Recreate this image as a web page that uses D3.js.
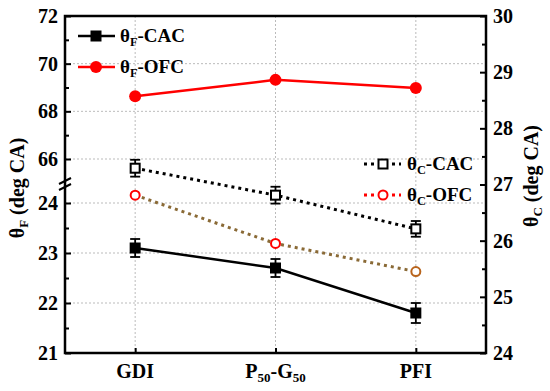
<!DOCTYPE html>
<html>
<head>
<meta charset="utf-8">
<script src="https://cdn.jsdelivr.net/npm/d3@7/dist/d3.min.js"></script>
<style>
  body { margin: 0; background: #fff; }
</style>
</head>
<body>
<script>
// data
var categories = ["GDI", "P50-G50", "PFI"];
var thetaF_CAC = [23.1, 22.7, 21.8];
var thetaF_CAC_err = [0.18, 0.18, 0.2];
var thetaF_OFC = [68.63, 69.32, 68.98];
var thetaC_CAC = [27.29, 26.81, 26.21];
var thetaC_CAC_err = [0.15, 0.15, 0.14];
var thetaC_OFC = [26.81, 25.95, 25.45];

var leftTopTicks = [66, 68, 70, 72];
var leftBotTicks = [21, 22, 23, 24];
var rightTicks = [24, 25, 26, 27, 28, 29, 30];

var svgWidth = 550, svgHeight = 391;
var plotLeft = 65, plotRight = 486, plotTop = 16, plotBottom = 353;
var breakY = 185;
var serif = "'Liberation Serif', 'Times New Roman', Times, serif";

var svg = d3.select("body").append("svg")
  .attr("width", svgWidth)
  .attr("height", svgHeight)
  .attr("font-family", serif)
  .attr("font-weight", "bold");

var x = d3.scalePoint().domain(categories).range([plotLeft, plotRight]).padding(0.5);
// broken left axis: upper part for OFC, lower part for CAC
var yTop = d3.scaleLinear().domain([66, 72]).range([159, plotTop]);
var yBot = d3.scaleLinear().domain([21, 24]).range([plotBottom, 203]);
var yRight = d3.scaleLinear().domain([24, 30]).range([plotBottom, plotTop]);

// grid
var grid = svg.append("g")
  .attr("stroke", "#aaa").attr("stroke-width", 0.8).attr("stroke-dasharray", "2,2");
categories.forEach(function(c) {
  grid.append("line").attr("x1", x(c)).attr("x2", x(c)).attr("y1", plotTop).attr("y2", plotBottom);
});
[66, 68, 70].forEach(function(v) {
  grid.append("line").attr("x1", plotLeft).attr("x2", plotRight).attr("y1", yTop(v)).attr("y2", yTop(v));
});
[22, 23, 24].forEach(function(v) {
  grid.append("line").attr("x1", plotLeft).attr("x2", plotRight).attr("y1", yBot(v)).attr("y2", yBot(v));
});

// axes
function styleAxis(g) {
  g.attr("font-family", serif).attr("font-weight", "bold");
  g.select(".domain").remove();
  g.selectAll("line").attr("stroke", "#000").attr("stroke-width", 2);
  g.selectAll("text").attr("font-size", 20).attr("fill", "#000").style("font-family", serif);
}

svg.append("g").attr("transform", "translate(" + plotLeft + ",0)")
  .call(d3.axisLeft(yTop).tickValues(leftTopTicks).tickSizeInner(-6).tickSizeOuter(0).tickPadding(7).tickFormat(d3.format("d")))
  .call(styleAxis);
svg.append("g").attr("transform", "translate(" + plotLeft + ",0)")
  .call(d3.axisLeft(yTop).tickValues([67, 69, 71]).tickSizeInner(-4).tickSizeOuter(0).tickFormat(""))
  .call(styleAxis);
svg.append("g").attr("transform", "translate(" + plotLeft + ",0)")
  .call(d3.axisLeft(yBot).tickValues(leftBotTicks).tickSizeInner(-6).tickSizeOuter(0).tickPadding(7).tickFormat(d3.format("d")))
  .call(styleAxis);
svg.append("g").attr("transform", "translate(" + plotLeft + ",0)")
  .call(d3.axisLeft(yBot).tickValues([21.5, 22.5, 23.5]).tickSizeInner(-4).tickSizeOuter(0).tickFormat(""))
  .call(styleAxis);

svg.append("g").attr("transform", "translate(" + plotRight + ",0)")
  .call(d3.axisRight(yRight).tickValues(rightTicks).tickSizeInner(-6).tickSizeOuter(0).tickPadding(7).tickFormat(d3.format("d")))
  .call(styleAxis);
svg.append("g").attr("transform", "translate(" + plotRight + ",0)")
  .call(d3.axisRight(yRight).tickValues([24.5, 25.5, 26.5, 27.5, 28.5, 29.5]).tickSizeInner(-4).tickSizeOuter(0).tickFormat(""))
  .call(styleAxis);

svg.append("g").attr("transform", "translate(0," + plotBottom + ")")
  .call(d3.axisBottom(x).tickSizeInner(-5).tickSizeOuter(0).tickFormat(""))
  .call(styleAxis);

// frame
svg.append("rect")
  .attr("x", plotLeft).attr("y", plotTop).attr("width", plotRight - plotLeft).attr("height", plotBottom - plotTop)
  .attr("fill", "none").attr("stroke", "#000").attr("stroke-width", 2.5);

// axis break marks
var brk = svg.append("g").attr("stroke", "#000").attr("stroke-width", 2);
brk.append("line").attr("x1", plotLeft - 6).attr("y1", breakY - 1).attr("x2", plotLeft + 6).attr("y2", breakY - 7);
brk.append("line").attr("x1", plotLeft - 6).attr("y1", breakY + 5).attr("x2", plotLeft + 6).attr("y2", breakY - 1);

// labels with subscripts
function subLabel(sel, parts, size) {
  sel.style("font-family", serif).attr("font-weight", "bold");
  parts.forEach(function(p) {
    sel.append("tspan").attr("font-size", p.sub ? size * 0.65 : size)
      .attr("dy", p.sub ? 4 : (p.back ? -4 : 0)).text(p.t);
  });
}
var catParts = {
  "GDI": [{t: "GDI"}],
  "P50-G50": [{t: "P"}, {t: "50", sub: true}, {t: "-G", back: true}, {t: "50", sub: true}],
  "PFI": [{t: "PFI"}]
};
categories.forEach(function(c) {
  var t = svg.append("text").attr("x", x(c)).attr("y", 378).attr("text-anchor", "middle");
  subLabel(t, catParts[c], 20);
});

// axis titles
var lt = svg.append("text").attr("transform", "translate(24,188) rotate(-90)").attr("text-anchor", "middle");
subLabel(lt, [{t: "θ"}, {t: "F", sub: true}, {t: " (deg CA)", back: true}], 20);
var rt = svg.append("text").attr("transform", "translate(538,176) rotate(-90)").attr("text-anchor", "middle");
subLabel(rt, [{t: "θ"}, {t: "C", sub: true}, {t: " (deg CA)", back: true}], 20);

// series
var idx = d3.range(categories.length);

function drawLine(vals, yScale, color, dash, width) {
  svg.append("path").datum(idx)
    .attr("fill", "none").attr("stroke", color).attr("stroke-width", width)
    .attr("stroke-dasharray", dash)
    .attr("d", d3.line().x(function(i) { return x(categories[i]); }).y(function(i) { return yScale(vals[i]); }));
}
function drawErr(vals, errs, yScale) {
  var g = svg.append("g").attr("stroke", "#000").attr("stroke-width", 1.8);
  idx.forEach(function(i) {
    var cx = x(categories[i]);
    g.append("line").attr("x1", cx).attr("x2", cx).attr("y1", yScale(vals[i] - errs[i])).attr("y2", yScale(vals[i] + errs[i]));
    g.append("line").attr("x1", cx - 5).attr("x2", cx + 5).attr("y1", yScale(vals[i] - errs[i])).attr("y2", yScale(vals[i] - errs[i]));
    g.append("line").attr("x1", cx - 5).attr("x2", cx + 5).attr("y1", yScale(vals[i] + errs[i])).attr("y2", yScale(vals[i] + errs[i]));
  });
}
function square(g, cx, cy, size, filled) {
  g.append("rect").attr("x", cx - size / 2).attr("y", cy - size / 2).attr("width", size).attr("height", size)
    .attr("fill", filled ? "#000" : "#fff").attr("stroke", "#000").attr("stroke-width", filled ? 0 : 2);
}
function circle(g, cx, cy, r, filled, stroke) {
  g.append("circle").attr("cx", cx).attr("cy", cy).attr("r", r)
    .attr("fill", filled ? "#ff0000" : "#fff").attr("stroke", stroke).attr("stroke-width", filled ? 0 : 2);
}

// theta_C OFC (right axis)
drawLine(thetaC_OFC, yRight, "#8a6a36", "3,4", 3);
idx.forEach(function(i) { circle(svg, x(categories[i]), yRight(thetaC_OFC[i]), 4.5, false, i == 2 ? "#b8641c" : "#ff0000"); });

// theta_C CAC (right axis)
drawLine(thetaC_CAC, yRight, "#000", "3,4", 3);
drawErr(thetaC_CAC, thetaC_CAC_err, yRight);
idx.forEach(function(i) { square(svg, x(categories[i]), yRight(thetaC_CAC[i]), 9, false); });

// theta_F CAC (lower left axis)
drawLine(thetaF_CAC, yBot, "#000", null, 2.5);
drawErr(thetaF_CAC, thetaF_CAC_err, yBot);
idx.forEach(function(i) { square(svg, x(categories[i]), yBot(thetaF_CAC[i]), 11, true); });

// theta_F OFC (upper left axis)
drawLine(thetaF_OFC, yTop, "#ff0000", null, 2.5);
idx.forEach(function(i) { circle(svg, x(categories[i]), yTop(thetaF_OFC[i]), 6, true, "#ff0000"); });

// legends
var leg = svg.append("g");
function legendText(px, py, sub, rest) {
  var t = leg.append("text").attr("x", px).attr("y", py + 6);
  subLabel(t, [{t: "θ"}, {t: sub, sub: true}, {t: rest, back: true}], 19);
}
leg.append("line").attr("x1", 78).attr("x2", 115).attr("y1", 36).attr("y2", 36).attr("stroke", "#000").attr("stroke-width", 2.5);
square(leg, 96, 36, 11, true);
legendText(120, 36, "F", "-CAC");

leg.append("line").attr("x1", 78).attr("x2", 115).attr("y1", 67).attr("y2", 67).attr("stroke", "#ff0000").attr("stroke-width", 2.5);
circle(leg, 96, 67, 6, true, "#ff0000");
legendText(120, 67, "F", "-OFC");

leg.append("line").attr("x1", 364).attr("x2", 401).attr("y1", 164).attr("y2", 164).attr("stroke", "#000").attr("stroke-width", 3).attr("stroke-dasharray", "3,4");
square(leg, 383, 164, 9, false);
legendText(407, 164, "C", "-CAC");

leg.append("line").attr("x1", 364).attr("x2", 401).attr("y1", 195).attr("y2", 195).attr("stroke", "#ff0000").attr("stroke-width", 3).attr("stroke-dasharray", "3,4");
circle(leg, 383, 195, 4.5, false, "#ff0000");
legendText(407, 195, "C", "-OFC");
</script>
</body>
</html>
